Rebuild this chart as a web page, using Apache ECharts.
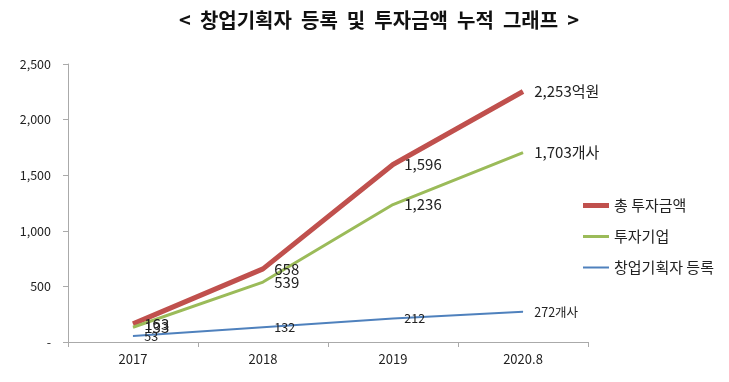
<!DOCTYPE html>
<html><head><meta charset="utf-8">
<script src="https://cdn.jsdelivr.net/npm/echarts@6/dist/echarts.min.js"></script>
<style>html,body{margin:0;padding:0;background:#fff}#c{width:729px;height:382px}</style>
</head><body><div id="c"></div>
<script>
const categories = ['2017', '2018', '2019', '2020.8'];
const seriesNames = ['총 투자금액', '투자기업', '창업기획자 등록'];
const totalInvest = [163, 658, 1596, 2253];
const investCompanies = [133, 539, 1236, 1703];
const acRegistered = [53, 132, 212, 272];
const lastSuffix = ['억원', '개사', '개사'];
const yTicks = [0, 500, 1000, 1500, 2000, 2500];

const colors = ['#c0504d', '#9bbb59', '#4f81bd'];
const widths = [5, 3, 2];
const fs = [15, 15, 12.5];
const font = '"Noto Sans CJK KR", "Noto Sans", sans-serif';
const datasets = [totalInvest, investCompanies, acRegistered];

const chart = echarts.init(document.getElementById('c'));
chart.setOption({
  animation: false,
  textStyle: {fontFamily: font},
  title: {
    text: '<  창업기획자  등록  및  투자금액  누적  그래프  >',
    left: 374, top: 5, textAlign: 'center',
    textStyle: {fontSize: 20, fontWeight: 'bold', color: '#111', fontFamily: font}
  },
  legend: seriesNames.map((n, i) => ({
    data: [{name: n, icon: 'rect', itemStyle: {color: colors[i], opacity: 1}}],
    left: 578, top: 193 + i * 31, orient: 'vertical',
    itemWidth: 26, itemHeight: widths[i], itemGap: 4,
    textStyle: {fontSize: 15, color: '#222', fontFamily: font}
  })),
  grid: {left: 68, right: 141, top: 64, bottom: 40},
  xAxis: {
    type: 'category', data: categories, boundaryGap: true,
    axisLine: {lineStyle: {color: '#aaa'}},
    axisTick: {show: true, length: 5, lineStyle: {color: '#aaa'}},
    axisLabel: {fontSize: 13, color: '#222', margin: 11}
  },
  yAxis: {
    type: 'value', min: 0, max: 2500, interval: 500,
    axisLine: {show: true, lineStyle: {color: '#aaa'}},
    axisTick: {show: true, length: 5, lineStyle: {color: '#aaa'}},
    splitLine: {show: false},
    axisLabel: {
      fontSize: 12.5, color: '#222', margin: 17,
      formatter: v => yTicks.includes(v) ? (v === 0 ? '-' : v.toLocaleString('en-US')) : ''
    }
  },
  series: seriesNames.map((n, i) => ({
    name: n, type: 'line', data: datasets[i],
    showSymbol: true, symbol: 'circle', symbolSize: 0.5,
    itemStyle: {color: colors[i]},
    color: colors[i],
    lineStyle: {color: colors[i], width: widths[i]},
    label: {
      show: true, position: 'right', distance: 11,
      fontSize: fs[i], color: '#222',
      formatter: p => p.value.toLocaleString('en-US') + (p.dataIndex === categories.length - 1 ? lastSuffix[i] : '')
    }
  }))
});
</script></body></html>
